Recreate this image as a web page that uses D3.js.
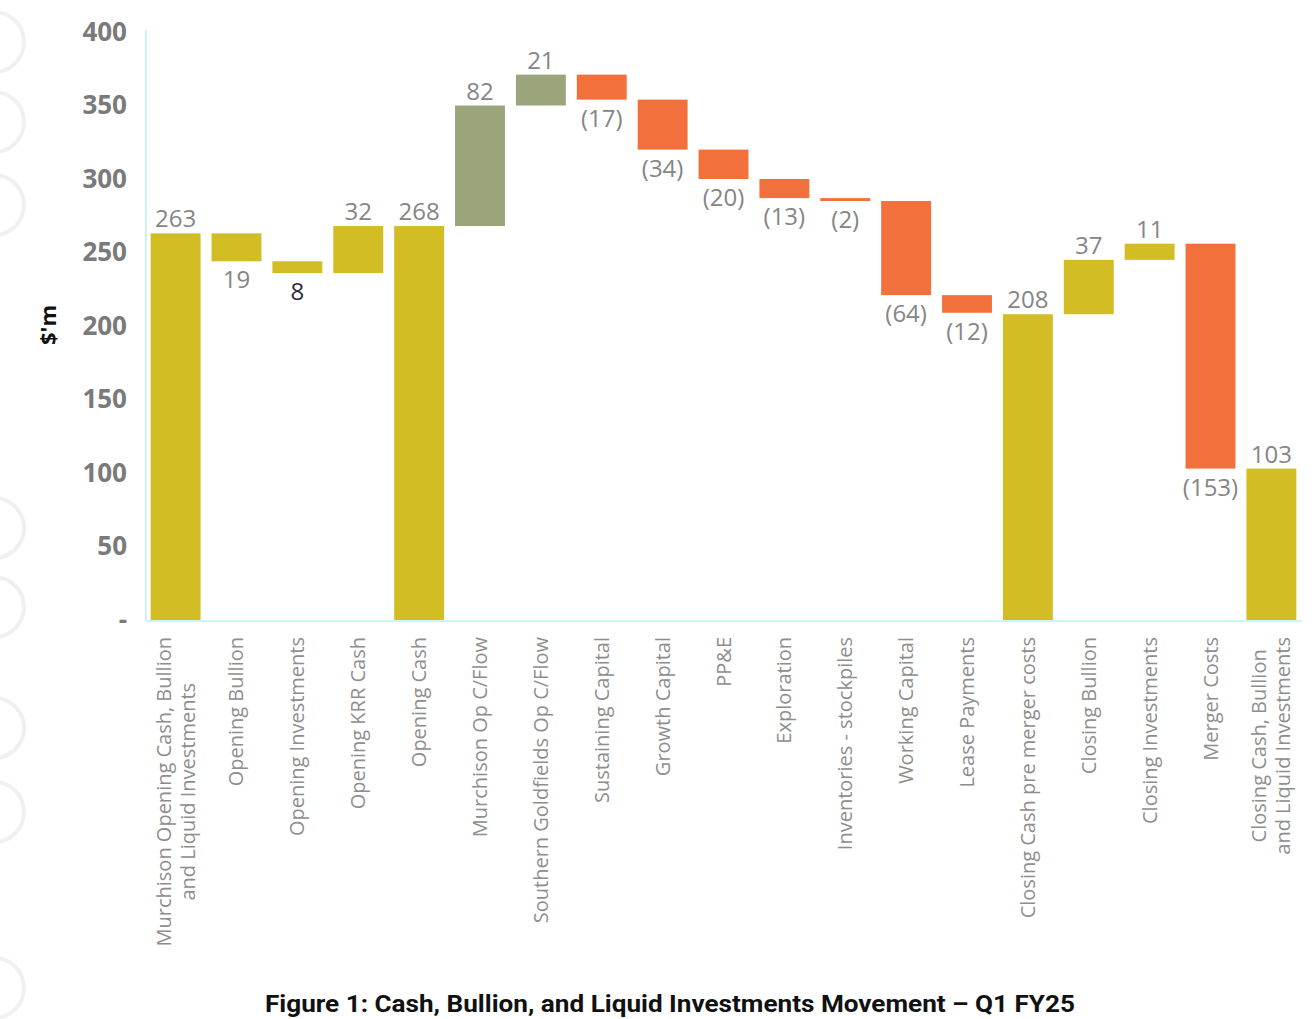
<!DOCTYPE html>
<html>
<head>
<meta charset="utf-8">
<script src="https://cdn.jsdelivr.net/npm/d3@7"></script>
<style>
  body { margin: 0; background: #fff; }
  .tick text { font-family: "Open Sans", sans-serif; }
</style>
</head>
<body>
<script>
// waterfall data
var categories = [
    "Murchison Opening Cash, Bullion|and Liquid Investments",
    "Opening Bullion",
    "Opening Investments",
    "Opening KRR Cash",
    "Opening Cash",
    "Murchison Op C/Flow",
    "Southern Goldfields Op C/Flow",
    "Sustaining Capital",
    "Growth Capital",
    "PP&E",
    "Exploration",
    "Inventories - stockpiles",
    "Working Capital",
    "Lease Payments",
    "Closing Cash pre merger costs",
    "Closing Bullion",
    "Closing Investments",
    "Merger Costs",
    "Closing Cash, Bullion|and Liquid Investments"
];
var steps = [263, -19, -8, 32, 268, 82, 21, -17, -34, -20, -13, -2, -64, -12, 208, 37, 11, -153, 103];
var isTotal = [1, 0, 0, 0, 1, 0, 0, 0, 0, 0, 0, 0, 0, 0, 1, 0, 0, 0, 1];
var kinds = ["cash", "cash", "cash", "cash", "cash", "flow", "flow", "cost", "cost", "cost",
             "cost", "cost", "cost", "cost", "cash", "cash", "cash", "cost", "cash"];
var valueLabels = ["263", "19", "8", "32", "268", "82", "21", "(17)", "(34)", "(20)", "(13)",
                   "(2)", "(64)", "(12)", "208", "37", "11", "(153)", "103"];
var yTicks = [0, 50, 100, 150, 200, 250, 300, 350, 400];

var colors = { cash: "#d2bd24", flow: "#9aa57c", cost: "#f1703b" };

window.onload = function(){
    var w = 1316, h = 1019;

    var svg = d3.select("body").append("svg")
        .attr("width", w)
        .attr("height", h);

    // faint watermark arcs on the left edge
    var marks = [42, 122, 205, 528, 607, 728, 812, 988];
    svg.selectAll(".wm")
        .data(marks)
        .enter()
        .append("circle")
        .attr("class", "wm")
        .attr("cx", -6)
        .attr("cy", function(d){ return d; })
        .attr("r", 30)
        .style("fill", "none")
        .style("stroke", "#f0f0f0")
        .style("stroke-width", 4);

    // build the running totals
    var rows = [];
    var run = 0;
    steps.forEach(function(v, i){
        var y0, y1;
        if (isTotal[i]) {
            y0 = 0; y1 = v; run = v;
        } else {
            y0 = run; y1 = run + v; run = y1;
        }
        rows.push({ name: categories[i], v: v, y0: y0, y1: y1, kind: kinds[i], label: valueLabels[i], total: isTotal[i], i: i });
    });

    var x = d3.scaleBand()
        .domain(categories)
        .range([147, 1300])
        .paddingInner(0.18)
        .paddingOuter(0.06);

    var y = d3.scaleLinear()
        .domain([0, 400])
        .range([620, 32]);

    // y axis
    var yAxis = d3.axisLeft(y)
        .tickValues(yTicks)
        .tickSize(0)
        .tickPadding(20)
        .tickFormat(function(d){ return d === 0 ? "-" : d; });

    var axisG = svg.append("g")
        .attr("transform", "translate(147,0)")
        .call(yAxis);
    axisG.select(".domain").remove();
    axisG.selectAll("text")
        .style("font-size", "26px")
        .style("font-weight", "700")
        .style("fill", "#7a7a7a");

    // axis lines (light cyan)
    svg.append("line")
        .attr("x1", 146).attr("x2", 146)
        .attr("y1", 30).attr("y2", 621)
        .style("stroke", "#ccf6f6").style("stroke-width", 2);
    svg.append("line")
        .attr("x1", 146).attr("x2", 1302)
        .attr("y1", 621).attr("y2", 621)
        .style("stroke", "#ccf6f6").style("stroke-width", 2);

    // y label
    svg.append("text")
        .attr("transform", "translate(56,325) rotate(-90)")
        .attr("text-anchor", "middle")
        .style("font-family", "'Open Sans', sans-serif")
        .style("font-size", "22px")
        .style("font-weight", "700")
        .style("fill", "#111")
        .text("$'m");

    // bars
    svg.selectAll(".bar")
        .data(rows)
        .enter()
        .append("rect")
        .attr("class", "bar")
        .attr("x", function(d){ return x(d.name); })
        .attr("width", x.bandwidth())
        .attr("y", function(d){ return y(Math.max(d.y0, d.y1)); })
        .attr("height", function(d){ return Math.abs(y(d.y0) - y(d.y1)); })
        .style("fill", function(d){ return colors[d.kind]; });

    // value labels
    svg.selectAll(".val")
        .data(rows)
        .enter()
        .append("text")
        .attr("class", "val")
        .attr("text-anchor", "middle")
        .attr("x", function(d){ return x(d.name) + x.bandwidth() / 2; })
        .attr("y", function(d){
            if (d.total || d.v > 0) return y(Math.max(d.y0, d.y1)) - 6;
            return y(Math.min(d.y0, d.y1)) + 27;
        })
        .style("font-family", "'Open Sans', sans-serif")
        .style("font-size", "24px")
        .style("fill", function(d){ return d.i === 2 ? "#2b2b3a" : "#858585"; })
        .text(function(d){ return d.label; });

    // category labels, rotated
    var catG = svg.selectAll(".cat")
        .data(rows)
        .enter()
        .append("text")
        .attr("class", "cat")
        .style("font-family", "'Open Sans', sans-serif")
        .style("font-size", "20px")
        .style("fill", "#8e8e8e");

    catG.each(function(d){
        var t = d3.select(this);
        var lines = d.name.split("|");
        var cx = x(d.name) + x.bandwidth() / 2;
        if (lines.length === 1) {
            t.attr("text-anchor", "end")
                .attr("transform", "translate(" + (cx + 7) + ",637) rotate(-90)")
                .text(lines[0]);
        } else {
            var spans = lines.map(function(l, k){
                return t.append("tspan")
                    .attr("x", 0)
                    .attr("y", (k - (lines.length - 1) / 2) * 24 + 7)
                    .text(l);
            });
            var longest = d3.max(spans, function(s){ return s.node().getComputedTextLength(); });
            t.attr("text-anchor", "middle")
                .attr("transform", "translate(" + cx + "," + (637 + longest / 2) + ") rotate(-90)");
        }
    });

    // figure caption
    svg.append("text")
        .attr("x", 670)
        .attr("y", 1012)
        .attr("text-anchor", "middle")
        .attr("textLength", 810)
        .attr("lengthAdjust", "spacingAndGlyphs")
        .style("font-family", "Roboto, sans-serif")
        .style("font-size", "24px")
        .style("font-weight", "700")
        .style("fill", "#111")
        .text("Figure 1: Cash, Bullion, and Liquid Investments Movement \u2013 Q1 FY25");
};
</script>
</body>
</html>
